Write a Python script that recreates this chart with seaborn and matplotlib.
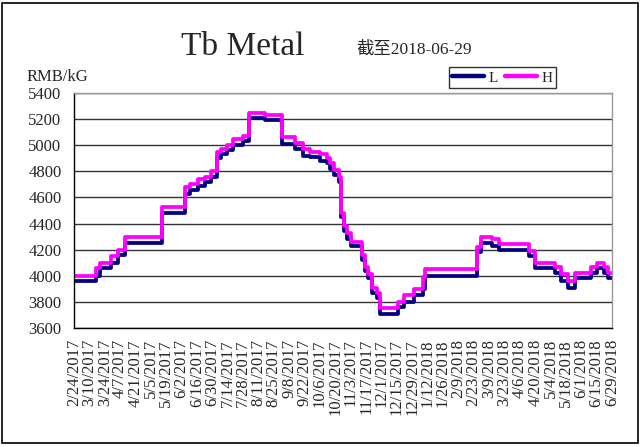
#!/usr/bin/env python3

import pandas as pd
import matplotlib
matplotlib.use("Agg")
import matplotlib.pyplot as plt
from matplotlib.lines import Line2D
from matplotlib.patches import Rectangle
from matplotlib.transforms import ScaledTranslation
import seaborn as sns

# price levels (RMB/kG), each row starts on that date and holds until the next
change_dates = [
    "2017-02-24", "2017-03-16", "2017-03-20", "2017-03-30", "2017-04-05",
    "2017-04-11", "2017-05-15", "2017-06-05", "2017-06-10", "2017-06-17",
    "2017-06-23", "2017-06-29", "2017-07-04", "2017-07-08", "2017-07-13",
    "2017-07-19", "2017-07-28", "2017-08-02", "2017-08-17", "2017-09-01",
    "2017-09-13", "2017-09-21", "2017-09-27", "2017-10-06", "2017-10-12",
    "2017-10-15", "2017-10-19", "2017-10-23", "2017-10-25", "2017-10-28",
    "2017-10-31", "2017-11-03", "2017-11-13", "2017-11-16", "2017-11-19",
    "2017-11-22", "2017-11-27", "2017-11-30", "2017-12-16", "2017-12-22",
    "2017-12-31", "2018-01-08", "2018-01-10", "2018-02-26", "2018-03-02",
    "2018-03-12", "2018-03-18", "2018-04-14", "2018-04-20", "2018-05-08",
    "2018-05-14", "2018-05-20", "2018-05-26", "2018-06-10", "2018-06-15",
    "2018-06-22", "2018-06-25", "2018-06-29",
]
low_prices = [
    3960, 4000, 4060, 4100, 4160,
    4250, 4480, 4630, 4660, 4690,
    4720, 4760, 4900, 4930, 4960,
    5000, 5030, 5210, 5190, 5010,
    4970, 4920, 4910, 4880, 4860,
    4820, 4770, 4720, 4450, 4340,
    4280, 4230, 4120, 4040, 3980,
    3870, 3830, 3710, 3760, 3800,
    3850, 3900, 4000, 4180, 4250,
    4230, 4200, 4150, 4060, 4020,
    3960, 3910, 3980, 4020, 4060,
    4020, 3980, 3980,
]
high_prices = [
    4000, 4060, 4100, 4150, 4200,
    4300, 4530, 4680, 4700, 4740,
    4760, 4800, 4950, 4970, 5000,
    5050, 5070, 5250, 5230, 5060,
    5020, 4970, 4950, 4930, 4900,
    4860, 4810, 4760, 4480, 4380,
    4330, 4260, 4160, 4070, 4010,
    3910, 3870, 3750, 3800, 3850,
    3900, 3990, 4050, 4220, 4300,
    4280, 4240, 4190, 4100, 4070,
    4010, 3960, 4020, 4070, 4100,
    4070, 4020, 4020,
]
tick_dates = pd.date_range("2017-02-24", "2018-06-29", freq="14D")
y_ticks = list(range(3600, 5401, 200))

df = pd.DataFrame({"date": pd.to_datetime(change_dates), "L": low_prices, "H": high_prices})
df = df.melt(id_vars="date", var_name="series", value_name="price")

sns.set_style("white")
plt.rcParams["font.family"] = ["Liberation Serif", "Noto Sans CJK SC"]

fig = plt.figure(figsize=(6.41, 4.47), dpi=100)
ax = fig.add_axes([74 / 641, 1 - 328 / 447, 538 / 641, 235 / 447])

colors = {"L": "#000080", "H": "#FF00FF"}
sns.lineplot(data=df, x="date", y="price", hue="series", hue_order=["L", "H"],
             palette=colors, drawstyle="steps-post", linewidth=2.7,
             legend=False, ax=ax)

ax.set_xlim(tick_dates[0], tick_dates[-1])
ax.set_ylim(3600, 5400)
ax.set_yticks(y_ticks)
ax.set_yticklabels([str(v) for v in y_ticks], fontsize=12)
ax.set_xticks(tick_dates)
ax.set_xticklabels([f"{d.month}/{d.day}/{d.year}" for d in tick_dates],
                   rotation=90, fontsize=12, ha="center", va="top")
for lab in ax.get_xticklabels():
    lab.set_transform(lab.get_transform() + ScaledTranslation(-6 / 100, 0, fig.dpi_scale_trans))
ax.set_xlabel("")
ax.set_ylabel("")

ax.grid(axis="y", color="#333333", linewidth=1)
ax.grid(axis="x", visible=False)
ax.tick_params(axis="x", direction="in", length=5, width=1, color="black", pad=8)
ax.tick_params(axis="y", length=0, pad=9)
for side in ["left", "bottom"]:
    ax.spines[side].set_color("black")
    ax.spines[side].set_linewidth(1)
for side in ["top", "right"]:
    ax.spines[side].set_color("#999999")
    ax.spines[side].set_linewidth(1)

fig.text(181 / 641, 1 - 47 / 447, "Tb Metal", fontsize=24, va="center", ha="left")
fig.text(356 / 641, 1 - 49 / 447, "截至2018-06-29", fontsize=12.5, va="center", ha="left")
fig.text(27 / 641, 1 - 77 / 447, "RMB/kG", fontsize=12, va="center", ha="left")

handles = [Line2D([], [], color=colors[k], linewidth=3.2) for k in ["L", "H"]]
leg = fig.legend(handles, ["L", "H"], ncol=2, loc="upper right",
                 bbox_to_anchor=(556 / 641, 1 - 67 / 447), fontsize=11,
                 frameon=True, fancybox=False, handlelength=2.1,
                 handletextpad=0.3, columnspacing=0.4, borderpad=0.25,
                 borderaxespad=0)
leg.get_frame().set_edgecolor("black")
leg.get_frame().set_linewidth(1)

fig.patches.append(Rectangle((2 / 641, 4 / 447), 636 / 641, 440 / 447,
                             transform=fig.transFigure, fill=False,
                             edgecolor="black", linewidth=1.2))

fig.savefig("out.png", dpi=100)
